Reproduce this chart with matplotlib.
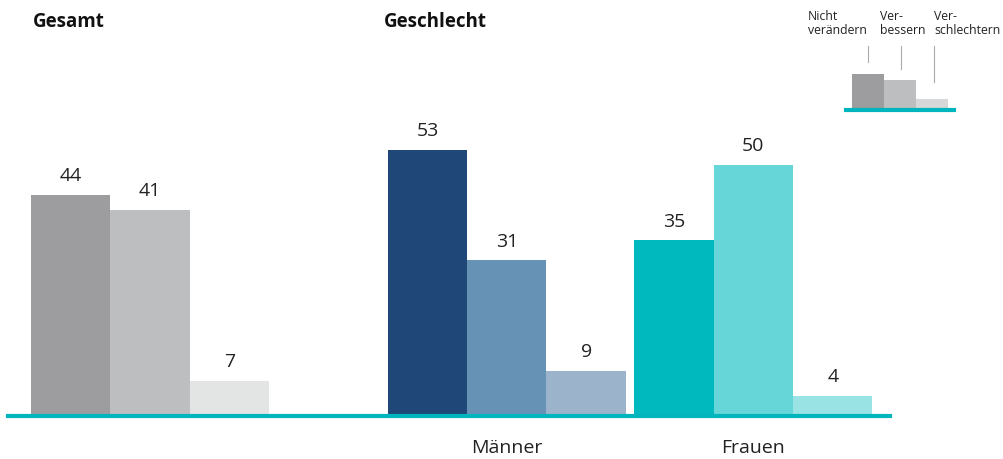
import numpy as np
import matplotlib.pyplot as plt

plt.rcParams['font.family'] = ['Open Sans', 'DejaVu Sans']

# data
categories = ['Nicht verändern', 'Verbessern', 'Verschlechtern']
gesamt = [44, 41, 7]
maenner = [53, 31, 9]
frauen = [35, 50, 4]
group_labels = ['Männer', 'Frauen']
legend_icon = [36, 30, 11]

col_gesamt = ['#9D9D9F', '#BDBEC0', '#E3E4E4']
col_maenner = ['#1F4777', '#6692B5', '#9BB4CC']
col_frauen = ['#00B9BE', '#66D6D8', '#99E3E4']
teal = '#00B5BD'

W, H = 1004, 459
fig = plt.figure(figsize=(W / 100, H / 100), dpi=100)

# main axes: pixel box left=8, right=890, baseline at y=415
base_y = 416
top_y = 100
ax = fig.add_axes([8 / W, (H - base_y) / H, 882 / W, (base_y - top_y) / H])
px_per_unit = 5.02
ax.set_ylim(0, (base_y - top_y) / px_per_unit)
bw = 79.3
ax.set_xlim(0, 882 / bw)

starts = [0.79, 5.29, 8.40]
offs = np.arange(3)
for start, vals, cols in zip(starts, [gesamt, maenner, frauen],
                             [col_gesamt, col_maenner, col_frauen]):
    xs = start + offs
    ax.bar(xs, vals, width=1.0, color=cols, linewidth=0)
    for x, v in zip(xs, vals):
        ax.annotate(str(v), (x, v), xytext=(0, 7), textcoords='offset points',
                    ha='center', va='bottom', fontsize=14, color='#222222')

for start, lab in zip(starts[1:], group_labels):
    ax.annotate(lab, (start + 1, 0), xytext=(0, -23), textcoords='offset points',
                ha='center', va='center', fontsize=14, color='#222222')

for s in ['top', 'right', 'left']:
    ax.spines[s].set_visible(False)
ax.spines['bottom'].set_color(teal)
ax.spines['bottom'].set_linewidth(3.0)
ax.set_xticks([])
ax.set_yticks([])
ax.patch.set_alpha(0)

fig.text(33 / W, 1 - 22 / H, 'Gesamt', fontsize=13.5, fontweight='bold',
         va='center', ha='left', color='#111111')
fig.text(384 / W, 1 - 22 / H, 'Geschlecht', fontsize=13.5, fontweight='bold',
         va='center', ha='left', color='#111111')

# legend icon
lax = fig.add_axes([846 / W, (H - 110) / H, 108 / W, 40 / H])
lax.set_xlim(0, 108)
lax.set_ylim(0, 40)
lcols = ['#9D9D9F', '#BDBEC0', '#D6D7D8']
lxs = [22, 54, 86]
lax.bar(lxs, legend_icon, width=32, color=lcols, linewidth=0)
for s in ['top', 'right', 'left']:
    lax.spines[s].set_visible(False)
lax.spines['bottom'].set_color(teal)
lax.spines['bottom'].set_linewidth(3.0)
lax.set_xticks([])
lax.set_yticks([])
lax.patch.set_alpha(0)

leg_texts = ['Nicht\nverändern', 'Ver-\nbessern', 'Ver-\nschlechtern']
text_x = [808, 880, 934]
line_x = [868, 901, 934]
line_bottom = [62, 69, 82]
for tx, t, lx, lb in zip(text_x, leg_texts, line_x, line_bottom):
    fig.text(tx / W, 1 - 10 / H, t, fontsize=8.8, va='top', ha='left',
             color='#222222', linespacing=1.1)
    fig.add_artist(plt.Line2D([lx / W, lx / W], [1 - 46 / H, 1 - lb / H],
                              color='#AAAAAA', linewidth=0.8))

fig.savefig('out.png', dpi=100)
